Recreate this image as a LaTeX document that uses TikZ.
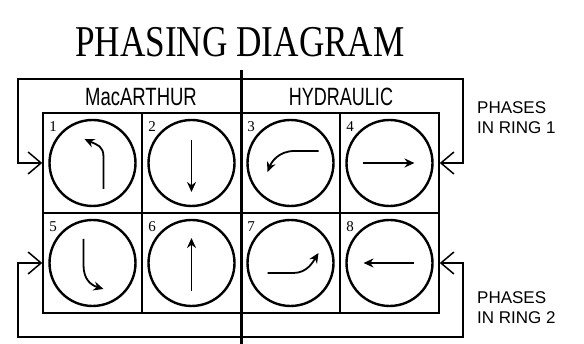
\documentclass[tikz,border=0pt]{standalone}
\usepackage{fontspec}
\usepackage{graphicx}
\setmainfont{Liberation Serif}
\newfontfamily\labelfont{Liberation Sans}
\usetikzlibrary{arrows.meta}
\newcommand{\condensed}[2]{\scalebox{#1}[1]{#2}}

\begin{document}
\begin{tikzpicture}[
    x=1pt, y=-1pt,
    cell/.style={draw, line width=1.5pt, minimum width=99pt, minimum height=100pt,
                 inner sep=0pt},
    signal/.style={draw, circle, line width=2.4pt, minimum size=86pt, inner sep=0pt},
    num/.style={anchor=base west, inner sep=0pt, font=\fontsize{15}{15}\selectfont},
    header/.style={inner sep=0pt, font=\labelfont\fontsize{25}{25}\selectfont},
    ringlbl/.style={anchor=north west, inner sep=0pt, align=left,
                    font=\labelfont\fontsize{17}{20}\selectfont},
    move/.style={line width=1.8pt, -{Stealth[length=10pt,width=9pt]}},
    ring/.style={line width=1.5pt, {Straight Barb[length=13pt,width=22pt,line width=1.5pt]}-{Straight Barb[length=13pt,width=22pt,line width=1.5pt]}},
    divider/.style={line width=3pt},
]
\useasboundingbox (0,0) rectangle (584,344);

% Title
\node[inner sep=0pt, font=\fontsize{44}{44}\selectfont] (title) at (240,42) {\condensed{0.8}{PHASING DIAGRAM}};

% ---- Cells, top row (ring 1) ----
\node[cell] (c1) at (92.5,163) {};
\node[cell] (c2) at (191.5,163) {};
\node[cell] (c3) at (290.5,163) {};
\node[cell] (c4) at (389.5,163) {};

% ---- Cells, bottom row (ring 2) ----
\node[cell] (c5) at (92.5,263) {};
\node[cell] (c6) at (191.5,263) {};
\node[cell] (c7) at (290.5,263) {};
\node[cell] (c8) at (389.5,263) {};

% ---- Signal circles ----
\node[signal] (s1) at (c1) {};
\node[signal] (s2) at (c2) {};
\node[signal] (s3) at (c3) {};
\node[signal] (s4) at (c4) {};
\node[signal] (s5) at (c5) {};
\node[signal] (s6) at (c6) {};
\node[signal] (s7) at (c7) {};
\node[signal] (s8) at (c8) {};

% ---- Phase numbers ----
\node[num] (n1) at ([shift={(7,19)}]c1.north west) {1};
\node[num] (n2) at ([shift={(7,19)}]c2.north west) {2};
\node[num] (n3) at ([shift={(7,19)}]c3.north west) {3};
\node[num] (n4) at ([shift={(7,19)}]c4.north west) {4};
\node[num] (n5) at ([shift={(7,19)}]c5.north west) {5};
\node[num] (n6) at ([shift={(7,19)}]c6.north west) {6};
\node[num] (n7) at ([shift={(7,19)}]c7.north west) {7};
\node[num] (n8) at ([shift={(7,19)}]c8.north west) {8};

% ---- Movements ----
\draw[move] ([shift={(11,26)}]s1.center) -- ([shift={(11,-6)}]s1.center)
    .. controls ([shift={(11,-17)}]s1.center) and ([shift={(5,-18)}]s1.center) .. ([shift={(-8,-24)}]s1.center);
\draw[move] ([shift={(0,-23)}]s2.center) -- ([shift={(0,29)}]s2.center);
\draw[move] ([shift={(28,-12)}]s3.center) -- ([shift={(4,-12)}]s3.center)
    .. controls ([shift={(-12,-12)}]s3.center) and ([shift={(-19,-1)}]s3.center) .. ([shift={(-23,9)}]s3.center);
\draw[move] ([shift={(-27,0)}]s4.center) -- ([shift={(25,0)}]s4.center);
\draw[move] ([shift={(-9,-24)}]s5.center) -- ([shift={(-9,2)}]s5.center)
    .. controls ([shift={(-9,16)}]s5.center) and ([shift={(-2,22)}]s5.center) .. ([shift={(11,26)}]s5.center);
\draw[move] ([shift={(0,28)}]s6.center) -- ([shift={(0,-25)}]s6.center);
\draw[move] ([shift={(-23,10)}]s7.center) -- ([shift={(3,10)}]s7.center)
    .. controls ([shift={(17,10)}]s7.center) and ([shift={(23,-2)}]s7.center) .. ([shift={(28,-10)}]s7.center);
\draw[move] ([shift={(24,0)}]s8.center) -- ([shift={(-26,0)}]s8.center);

% ---- Headers ----
\node[header] (mac) at (141,97) {\condensed{0.74}{MacARTHUR}};
\node[header] (hyd) at (341,97) {\condensed{0.72}{HYDRAULIC}};

% ---- Ring loops ----
\coordinate (r1l) at (18,79);
\coordinate (r1r) at (463,79);
\coordinate (r2l) at (18,337);
\coordinate (r2r) at (463,337);
\draw[ring] (c1.west) -- (r1l |- c1.west) -- (r1l) -- (r1r) -- (r1r |- c4.east) -- (c4.east);
\draw[ring] (c5.west) -- (r2l |- c5.west) -- (r2l) -- (r2r) -- (r2r |- c8.east) -- (c8.east);

% ---- Divider ----
\coordinate (dtop) at (241,70);
\coordinate (dbot) at (241,344);
\draw[divider] (dtop) -- (dbot);

% ---- Ring labels ----
\node[ringlbl] (ring1) at (477,101) {PHASES\\IN RING 1};
\node[ringlbl] (ring2) at (477,291) {PHASES\\IN RING 2};
\end{tikzpicture}
\end{document}
